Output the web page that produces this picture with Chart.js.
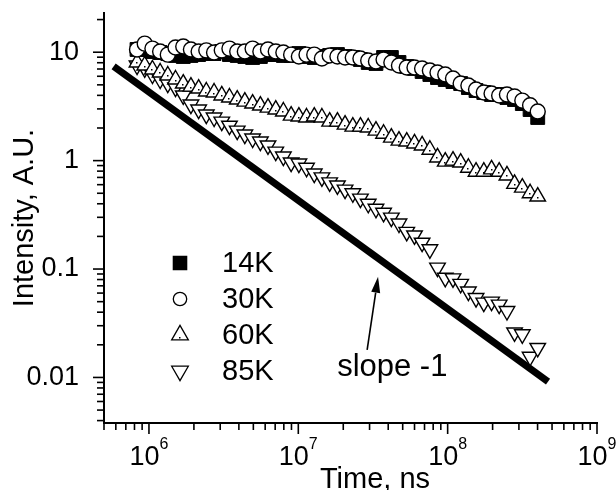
<!DOCTYPE html>
<html>
<head>
<meta charset="utf-8">
<script src="https://cdn.jsdelivr.net/npm/chart.js@4/dist/chart.umd.min.js"></script>
<style>
  html, body { margin: 0; padding: 0; background: #fff; }
</style>
</head>
<body>
<canvas id="decay" width="616" height="490"></canvas>
<script>
// time axis (ns), shared by all four temperatures
const times = [8.32e5, 9.37e5, 1.055e6, 1.188e6, 1.337e6, 1.506e6, 1.697e6, 1.91e6, 2.151e6, 2.421e6,
  2.729e6, 3.073e6, 3.459e6, 3.899e6, 4.385e6, 4.943e6, 5.572e6, 6.266e6, 7.063e6, 7.943e6,
  8.954e6, 1.009e7, 1.135e7, 1.279e7, 1.439e7, 1.622e7, 1.828e7, 2.056e7, 2.317e7, 2.606e7,
  2.938e7, 3.311e7, 3.724e7, 4.198e7, 4.721e7, 5.321e7, 5.998e7, 6.745e7, 7.603e7, 8.551e7,
  9.638e7, 1.086e8, 1.222e8, 1.377e8, 1.549e8, 1.746e8, 1.968e8, 2.213e8, 2.495e8, 2.805e8,
  3.162e8, 3.565e8, 4.009e8];

const i14K = [10.6, 10.6, 10.15, 9.93, 9.72, 9.33, 9.13, 9.33, 9.52, 9.72,
  9.72, 10.15, 9.52, 9.33, 9.13, 8.94, 9.13, 9.52, 9.52, 9.33,
  9.33, 9.72, 9.13, 8.94, 9.13, 9.33, 9.52, 9.13, 8.94, 8.57,
  8.04, 7.87, 8.94, 8.94, 8.04, 7.38, 7.08, 6.64, 6.23, 5.84,
  5.6, 5.36, 5.14, 4.72, 4.43, 4.25, 4.07, 4.07, 3.82, 3.66,
  3.36, 2.96, 2.5];

const i30K = [10.6, 12.0, 10.8, 10.15, 9.5, 11.05, 11.3, 10.6, 10.15, 10.4,
  9.93, 10.4, 10.8, 10.15, 10.15, 10.8, 10.15, 10.6, 10.15, 9.93,
  9.5, 9.13, 9.5, 9.5, 8.75, 9.33, 9.13, 8.94, 8.94, 8.75,
  8.39, 8.21, 8.57, 8.04, 7.54, 7.23, 7.23, 7.08, 6.78, 6.5,
  6.23, 5.72, 5.14, 4.93, 4.53, 4.25, 4.16, 3.99, 4.07, 3.91,
  3.58, 3.24, 2.84];

const i60K = [8.04, 7.54, 6.93, 6.5, 6.1, 5.6, 5.14, 4.82, 4.62, 4.34,
  4.25, 3.99, 3.82, 3.66, 3.5, 3.36, 3.22, 3.08, 2.96, 2.84,
  2.6, 2.55, 2.5, 2.55, 2.5, 2.29, 2.29, 2.15, 2.06, 2.06,
  2.02, 1.89, 1.77, 1.63, 1.53, 1.5, 1.44, 1.38, 1.26, 1.07,
  0.98, 1.0, 0.96, 0.86, 0.79, 0.79, 0.83, 0.79, 0.73, 0.61,
  0.563, 0.5, 0.466];

const i85K = [7.54, 7.08, 6.23, 5.6, 5.14, 4.72, 3.99, 3.29, 2.96, 2.66,
  2.5, 2.29, 2.1, 1.89, 1.74, 1.6, 1.5, 1.38, 1.21, 1.09,
  0.96, 0.94, 0.86, 0.76, 0.7, 0.63, 0.59, 0.54, 0.5, 0.446,
  0.4, 0.36, 0.33, 0.298, 0.263, 0.22, 0.204, 0.175, 0.152, 0.103,
  0.083, 0.082, 0.073, 0.062, 0.054, 0.049, 0.05, 0.047, 0.041, 0.026,
  0.025, 0.0155, 0.0187];

const seriesNames = ['14K', '30K', '60K', '85K'];

// the "slope -1" guide line and its arrow
const slopeTimes = [5.8e5, 4.7e8];
const slopeValues = [7.41, 0.00915];
const arrowFrom = [2.89e7, 0.018];
const arrowTo = [3.42e7, 0.085];
const slopeLabelAt = [1.82e7, 0.0104];

// axes
const xExponents = [6, 7, 8, 9];
const yMajorTicks = [0.01, 0.1, 1, 10];
const yTickLabels = ['0.01', '0.1', '1', '10'];

const FONT = "'Liberation Sans', Arial, Helvetica, sans-serif";
Chart.defaults.font.family = FONT;
Chart.defaults.color = '#000';

function pts(values) {
    return times.map((t, i) => ({ x: t, y: values[i] }));
}

function marker(ctx, style, x, y, r) {
    ctx.beginPath();
    if (style === 'rect') {
        const s = r * Math.SQRT1_2;
        ctx.rect(x - s, y - s, 2 * s, 2 * s);
    } else if (style === 'circle') {
        ctx.arc(x, y, r, 0, Math.PI * 2);
    } else {
        const sign = style === 'up' ? 1 : -1;
        for (let k = 0; k < 3; k++) {
            const a = k * 2 * Math.PI / 3;
            const px = x + Math.sin(a) * r;
            const py = y - sign * Math.cos(a) * r;
            if (k === 0) ctx.moveTo(px, py); else ctx.lineTo(px, py);
        }
        ctx.closePath();
    }
    ctx.fill();
    ctx.stroke();
}

const decor = {
    id: 'decor',
    afterDatasetsDraw(chart) {
        // the small centre dot inside the 60K triangles
        const ctx = chart.ctx;
        const meta = chart.getDatasetMeta(2);
        ctx.save();
        ctx.fillStyle = '#000';
        meta.data.forEach((p) => ctx.fillRect(Math.round(p.x) - 1, Math.round(p.y), 1.5, 1.5));
        ctx.restore();
    },
    afterDraw(chart) {
        const ctx = chart.ctx;
        const xs = chart.scales.x;
        const ys = chart.scales.y;
        const area = chart.chartArea;
        ctx.save();
        ctx.strokeStyle = '#000';
        ctx.fillStyle = '#000';
        ctx.lineWidth = 1.6;

        // tick marks, major + minor, pointing outwards
        for (let e = -3; e <= 1; e++) {
            for (let m = 1; m <= 9; m++) {
                const v = m * Math.pow(10, e);
                if (v < ys.min || v > ys.max) continue;
                const py = ys.getPixelForValue(v);
                const len = m === 1 ? 11 : 7;
                ctx.beginPath();
                ctx.moveTo(area.left - len, py);
                ctx.lineTo(area.left, py);
                ctx.stroke();
            }
        }
        for (let e = 5; e <= 9; e++) {
            for (let m = 1; m <= 9; m++) {
                const v = m * Math.pow(10, e);
                if (v < xs.min * 0.999 || v > xs.max * 1.001) continue;
                const px = xs.getPixelForValue(v);
                const len = m === 1 ? 11 : 7;
                ctx.beginPath();
                ctx.moveTo(px, area.bottom);
                ctx.lineTo(px, area.bottom + len);
                ctx.stroke();
            }
        }

        // x tick labels as 10^n
        ctx.textBaseline = 'alphabetic';
        ctx.textAlign = 'left';
        xExponents.forEach((e) => {
            const px = xs.getPixelForValue(Math.pow(10, e));
            ctx.font = '27px ' + FONT;
            const w1 = ctx.measureText('10').width;
            ctx.font = '16px ' + FONT;
            const w2 = ctx.measureText(String(e)).width;
            const x0 = px - (w1 + w2) / 2;
            ctx.font = '27px ' + FONT;
            ctx.fillText('10', x0, 465);
            ctx.font = '16px ' + FONT;
            ctx.fillText(String(e), x0 + w1, 449);
        });

        // x title
        ctx.font = '29px ' + FONT;
        ctx.textAlign = 'center';
        ctx.fillText('Time, ns', 375, 488);

        // legend
        const styles = ['rect', 'circle', 'up', 'down'];
        const fills = ['#000', '#fff', '#fff', '#fff'];
        const sizes = [9.4, 6.7, 9.6, 9.6];
        const rowY = [263, 299, 335, 371];
        ctx.lineWidth = 1.3;
        ctx.textAlign = 'left';
        for (let i = 0; i < 4; i++) {
            ctx.fillStyle = fills[i];
            marker(ctx, styles[i], 180, rowY[i], sizes[i]);
            ctx.fillStyle = '#000';
            ctx.fillText(seriesNames[i], 222, rowY[i] + 9);
        }
        ctx.fillRect(179, 337, 1.5, 1.5);

        // arrow and annotation
        const ax0 = xs.getPixelForValue(arrowFrom[0]);
        const ay0 = ys.getPixelForValue(arrowFrom[1]);
        const ax1 = xs.getPixelForValue(arrowTo[0]);
        const ay1 = ys.getPixelForValue(arrowTo[1]);
        const ang = Math.atan2(ay1 - ay0, ax1 - ax0);
        const hl = 16, hw = 4.5;
        const bx = ax1 - Math.cos(ang) * hl;
        const by = ay1 - Math.sin(ang) * hl;
        ctx.lineWidth = 1.6;
        ctx.beginPath();
        ctx.moveTo(ax0, ay0);
        ctx.lineTo(bx, by);
        ctx.stroke();
        ctx.beginPath();
        ctx.moveTo(ax1, ay1);
        ctx.lineTo(bx + Math.sin(ang) * hw, by - Math.cos(ang) * hw);
        ctx.lineTo(bx - Math.sin(ang) * hw, by + Math.cos(ang) * hw);
        ctx.closePath();
        ctx.fill();

        ctx.font = '31px ' + FONT;
        ctx.fillText('slope -1', xs.getPixelForValue(slopeLabelAt[0]), ys.getPixelForValue(slopeLabelAt[1]));
        ctx.restore();
    }
};

const ctx = document.getElementById('decay').getContext('2d');
const decayChart = new Chart(ctx, {
    type: 'scatter',
    data: {
        datasets: [
            {
                label: '30K', data: pts(i30K), order: 0,
                pointStyle: 'circle', pointRadius: 7.5,
                backgroundColor: '#fff', borderColor: '#000', borderWidth: 1.4,
            },
            {
                label: '14K', data: pts(i14K), order: 1,
                pointStyle: 'rect', pointRadius: 9.8,
                backgroundColor: '#000', borderColor: '#000', borderWidth: 1,
            },
            {
                label: '60K', data: pts(i60K), order: 2,
                pointStyle: 'triangle', pointRadius: 9,
                backgroundColor: '#fff', borderColor: '#000', borderWidth: 1.4,
            },
            {
                label: '85K', data: pts(i85K), order: 3,
                pointStyle: 'triangle', rotation: 180, pointRadius: 9,
                backgroundColor: '#fff', borderColor: '#000', borderWidth: 1.4,
            },
            {
                label: 'slope -1',
                data: slopeTimes.map((t, i) => ({ x: t, y: slopeValues[i] })),
                order: 4, showLine: true, pointRadius: 0,
                borderColor: '#000', borderWidth: 7, borderCapStyle: 'butt',
            },
        ],
    },
    options: {
        responsive: false,
        animation: false,
        devicePixelRatio: 1,
        layout: { padding: { left: 0, right: 19, top: 13, bottom: 0 } },
        plugins: {
            legend: { display: false },
            tooltip: { enabled: false },
        },
        scales: {
            x: {
                type: 'logarithmic',
                min: 5e5,
                max: 1e9,
                grid: { display: false },
                border: { display: true, color: '#000', width: 2 },
                ticks: { display: false },
                afterFit: (s) => { s.height = 67; s.paddingLeft = 0; s.paddingRight = 0; },
            },
            y: {
                type: 'logarithmic',
                min: 0.0038,
                max: 23,
                grid: { display: false },
                border: { display: true, color: '#000', width: 2 },
                ticks: {
                    color: '#000',
                    font: { size: 27 },
                    padding: 17,
                    autoSkip: false,
                    callback: (v, i) => yTickLabels[i],
                },
                afterBuildTicks: (s) => { s.ticks = yMajorTicks.map((v) => ({ value: v })); },
                afterFit: (s) => { s.width = 104; s.paddingTop = 0; s.paddingBottom = 0; },
                title: {
                    display: true,
                    text: 'Intensity, A.U.',
                    color: '#000',
                    font: { size: 29 },
                    padding: { top: 8, bottom: 0 },
                },
            },
        },
    },
    plugins: [decor],
});
</script>
</body>
</html>
